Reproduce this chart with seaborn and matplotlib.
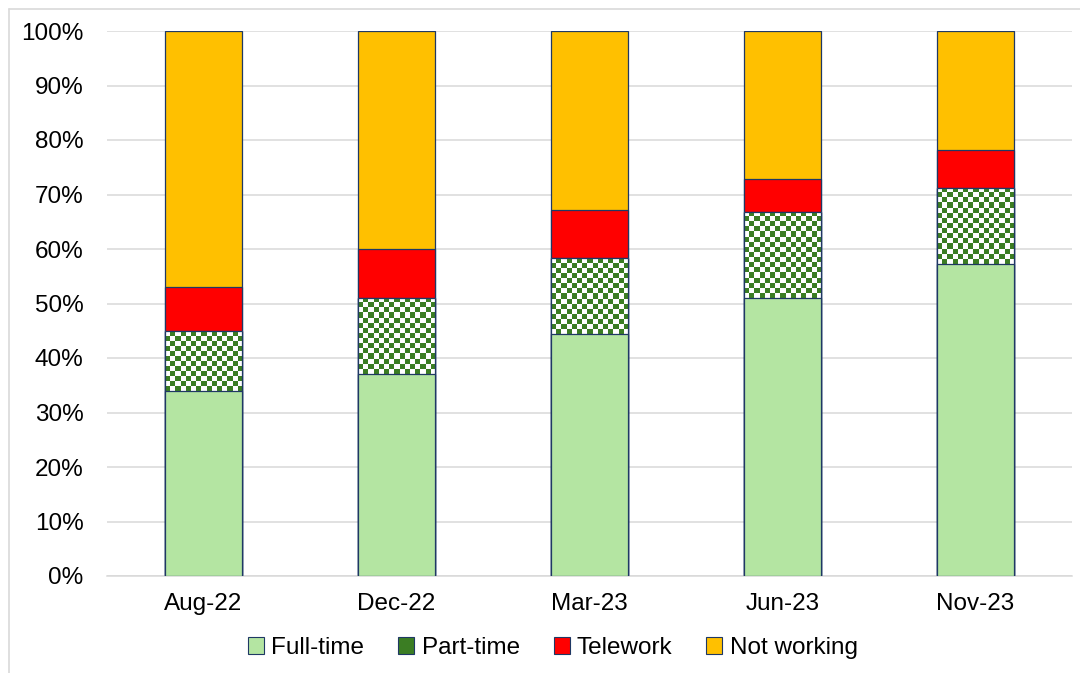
import numpy as np
import pandas as pd
import seaborn as sns
import matplotlib.pyplot as plt
from matplotlib.patches import Patch
from matplotlib.lines import Line2D

# data (percent of each survey wave)
months = ["Aug-22", "Dec-22", "Mar-23", "Jun-23", "Nov-23"]
full_time = [34.0, 37.0, 44.4, 51.0, 57.2]
part_time = [11.0, 14.0, 13.9, 15.8, 14.0]
telework = [8.0, 9.0, 8.9, 6.0, 7.0]
not_working = [47.0, 40.0, 32.8, 27.2, 21.8]

df = pd.DataFrame({"month": months, "Full-time": full_time, "Part-time": part_time,
                   "Telework": telework, "Not working": not_working})
# cumulative totals so the bars can be stacked by overlapping
df["c_full"] = df["Full-time"]
df["c_part"] = df["c_full"] + df["Part-time"]
df["c_tele"] = df["c_part"] + df["Telework"]
df["c_all"] = df["c_tele"] + df["Not working"]

sns.set_style("white")
plt.rcParams['font.family'] = ['Liberation Sans', 'DejaVu Sans']
plt.rcParams['text.color'] = 'black'

fig = plt.figure(figsize=(10.8, 6.73), dpi=100)
ax = fig.add_axes([107 / 1080, 1 - 576 / 673, 965 / 1080, 545 / 673])

edge = "#1f3864"
green_light = "#b4e5a2"
green_dark = "#3b7d23"
red = "#ff0000"
amber = "#ffc000"

sns.barplot(data=df, x="month", y="c_all", color=amber, saturation=1, width=0.4,
            edgecolor=edge, linewidth=0.9, ax=ax, zorder=2)
sns.barplot(data=df, x="month", y="c_tele", color=red, saturation=1, width=0.4,
            edgecolor=edge, linewidth=0.9, ax=ax, zorder=3)
sns.barplot(data=df, x="month", y="c_part", color="white", saturation=1, width=0.4,
            edgecolor=edge, linewidth=0.9, ax=ax, zorder=4)
part_bars = ax.patches[-len(months):]

# checkerboard texture for the part-time segment
sq = 0.92  # size of one square in percent units
for i, p in enumerate(part_bars):
    x0 = p.get_x()
    x1 = x0 + p.get_width()
    y0 = df["c_full"][i]
    y1 = df["c_part"][i]
    ny = max(1, int(round((y1 - y0) / sq)))
    nx = 15
    checker = (np.indices((ny, nx)).sum(axis=0) % 2).astype(float)
    img = np.ones((ny, nx, 3))
    g = np.array([0x3b, 0x7d, 0x23]) / 255
    img[checker == 1] = g
    im = ax.imshow(img, extent=(x0, x1, y0, y1), aspect="auto",
                   interpolation="nearest", zorder=4.5)
    im.set_clip_path(p)

sns.barplot(data=df, x="month", y="c_full", color=green_light, saturation=1, width=0.4,
            edgecolor=edge, linewidth=0.9, ax=ax, zorder=5)

# redraw outline of part-time bars above texture
for p in part_bars:
    p2 = plt.Rectangle((p.get_x(), p.get_y()), p.get_width(), p.get_height(),
                       fill=False, edgecolor=edge, linewidth=0.9, zorder=4.8)
    ax.add_patch(p2)

ax.set_xlim(-0.5, 4.5)
ax.set_ylim(0, 100)
ax.set_yticks(np.arange(0, 101, 10))
ax.set_yticklabels([f"{v}%" for v in range(0, 101, 10)])
ax.set_xlabel("")
ax.set_ylabel("")
ax.tick_params(axis="both", labelsize=17.5, length=0, colors="black")
ax.tick_params(axis="x", pad=12)
ax.tick_params(axis="y", pad=17)
ax.grid(axis="y", color="#d9d9d9", linewidth=1.1, zorder=0)
ax.set_axisbelow(True)
for s in ["top", "right", "left"]:
    ax.spines[s].set_visible(False)
ax.spines["bottom"].set_color("#d9d9d9")
ax.spines["bottom"].set_linewidth(1.1)

handles = [
    Patch(facecolor=green_light, edgecolor=edge, linewidth=0.8),
    Patch(facecolor=green_dark, edgecolor=edge, linewidth=0.8),
    Patch(facecolor=red, edgecolor=edge, linewidth=0.8),
    Patch(facecolor=amber, edgecolor=edge, linewidth=0.8),
]
leg = fig.legend(handles, ["Full-time", "Part-time", "Telework", "Not working"],
                 loc="center", bbox_to_anchor=(0.512, 1 - 648 / 673), ncol=4, frameon=False,
                 fontsize=17.5, handlelength=0.65, handleheight=0.65, handletextpad=0.3,
                 columnspacing=1.4)
for t in leg.get_texts():
    t.set_color("black")

# light frame around the chart area (left and top edges visible)
fig.add_artist(Line2D([9 / 1080, 9 / 1080], [0, 1 - 9 / 673], transform=fig.transFigure,
                      color="#d9d9d9", linewidth=1.2))
fig.add_artist(Line2D([9 / 1080, 1], [1 - 9 / 673, 1 - 9 / 673], transform=fig.transFigure,
                      color="#d9d9d9", linewidth=1.2))

fig.savefig("out.png", dpi=100)
